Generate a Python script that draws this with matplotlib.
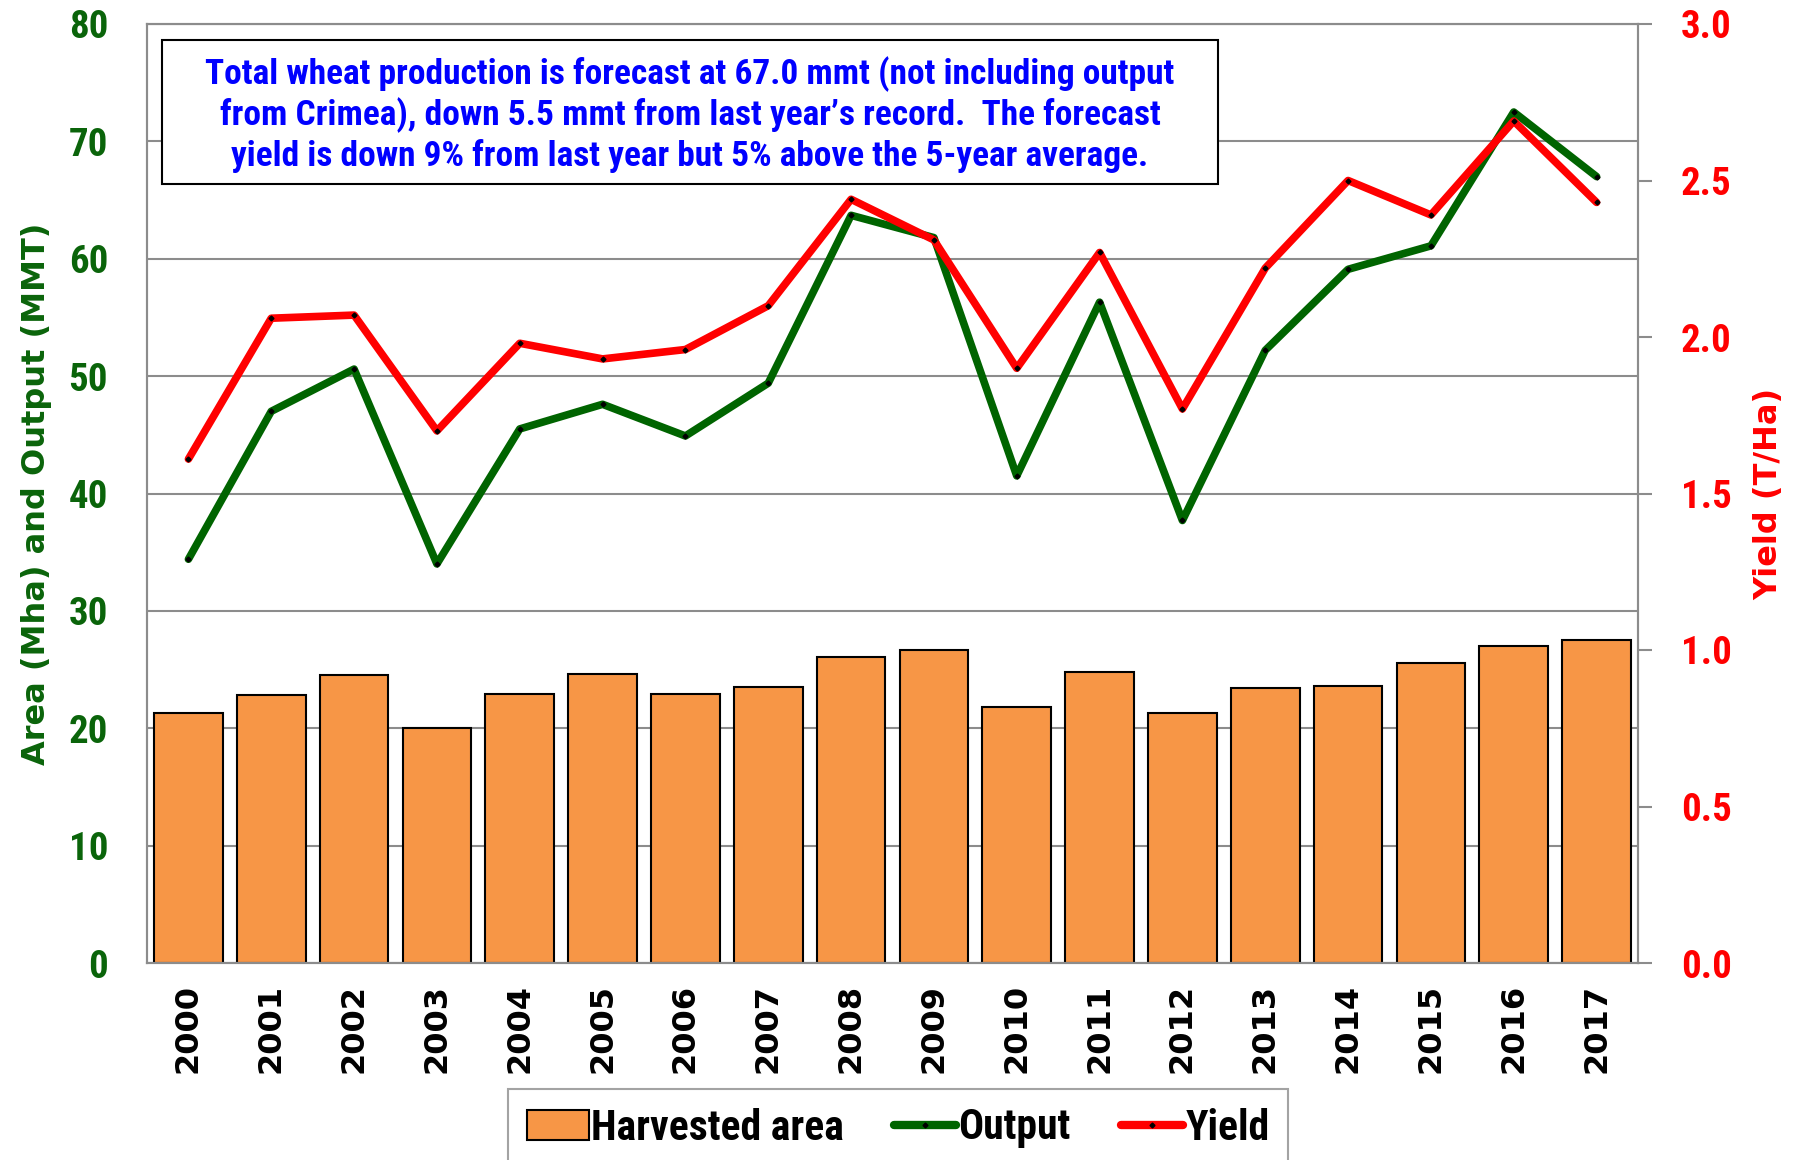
import numpy as np
import matplotlib.pyplot as plt
from matplotlib.patches import Rectangle
from matplotlib.lines import Line2D

years = [str(y) for y in range(2000, 2018)]
area = [21.3, 22.8, 24.5, 20.0, 22.9, 24.6, 22.9, 23.5, 26.1, 26.7,
        21.8, 24.8, 21.3, 23.4, 23.6, 25.6, 27.0, 27.5]
output = [34.4, 47.0, 50.6, 34.0, 45.5, 47.6, 44.9, 49.4, 63.7, 61.8,
          41.5, 56.3, 37.7, 52.2, 59.1, 61.1, 72.5, 67.0]
yld = [1.61, 2.06, 2.07, 1.70, 1.98, 1.93, 1.96, 2.10, 2.44, 2.31,
       1.90, 2.27, 1.77, 2.22, 2.50, 2.39, 2.69, 2.43]

note = ("Total wheat production is forecast at 67.0 mmt (not including output\n"
        "from Crimea), down 5.5 mmt from last year\u2019s record.  The forecast\n"
        "yield is down 9% from last year but 5% above the 5-year average.")

NARROW = ['Roboto Condensed', 'DejaVu Sans']
WIDE = ['DejaVu Sans']
GREEN = '#0a640a'
LINE_GREEN = '#006400'
ORANGE = '#f79646'
GRID = '#8c8c8c'

W, H = 1802, 1160
fig = plt.figure(figsize=(W / 100, H / 100), dpi=100)
L, R, T, B = 147, 1638, 24, 963
ax = fig.add_axes([L / W, 1 - B / H, (R - L) / W, (B - T) / H])
ax2 = ax.twinx()

x = np.arange(len(years))
ax.bar(x, area, width=0.83, color=ORANGE, edgecolor='black', linewidth=1.5, zorder=2)
ax.plot(x, output, color=LINE_GREEN, lw=5.5, solid_capstyle='round', zorder=3,
        marker='D', ms=2.5, mfc='black', mec='black')
ax2.plot(x, yld, color='#ff0000', lw=5.5, solid_capstyle='round', zorder=3,
         marker='D', ms=2.5, mfc='black', mec='black')

ax.set_xlim(-0.5, len(years) - 0.5)
ax.set_ylim(0, 80)
ax2.set_ylim(0, 3.0)
ax.set_yticks(range(0, 81, 10))
ax2.set_yticks(np.arange(0, 3.01, 0.5))
ax2.set_yticklabels([f'{v:.1f}' for v in np.arange(0, 3.01, 0.5)])

ax.yaxis.grid(True, color=GRID, lw=1.5, zorder=0)
ax.set_axisbelow(True)

for a in (ax, ax2):
    for s in a.spines.values():
        s.set_color(GRID)
        s.set_linewidth(1.5)

ax.set_xticks(x)
ax.set_xticklabels(years, rotation=90, fontsize=23, fontweight='bold', family=WIDE)
ax.tick_params(axis='x', length=0, pad=15)
ax.tick_params(axis='y', length=0, pad=28, labelcolor=GREEN)
ax2.tick_params(axis='y', length=10, width=1.5, color=GRID, pad=21, labelcolor='#ff0000')
for lab in ax.get_yticklabels() + ax2.get_yticklabels():
    lab.set_fontsize(28)
    lab.set_fontweight('bold')
    lab.set_family(NARROW)

ax.set_ylabel('Area (Mha) and Output (MMT)', fontsize=23, fontweight='bold',
              color=GREEN, family=WIDE)
ax.yaxis.set_label_coords(-0.064, 0.5)
ax2.set_ylabel('Yield (T/Ha)', fontsize=23, fontweight='bold', color='#ff0000',
               family=WIDE, rotation=90)
ax2.yaxis.set_label_coords(1.077, 0.5)

# note box
bx0, bx1, by0, by1 = 162, 1218, 40, 184
fig.patches.append(Rectangle((bx0 / W, 1 - by1 / H), (bx1 - bx0) / W, (by1 - by0) / H,
                             transform=fig.transFigure, facecolor='white',
                             edgecolor='black', lw=1.5, zorder=10))
fig.text((bx0 + bx1) / 2 / W, 1 - (by0 + by1) / 2 / H - 0.002, note, ha='center',
         va='center', multialignment='center', color='#0000ff', fontsize=25.5,
         fontweight='bold', family=NARROW, linespacing=1.2, zorder=11)

handles = [Rectangle((0, 0), 1, 1, facecolor=ORANGE, edgecolor='black', lw=1.5),
           Line2D([], [], color=LINE_GREEN, lw=6, solid_capstyle='round',
                  marker='D', ms=2.5, mfc='black', mec='black'),
           Line2D([], [], color='#ff0000', lw=6, solid_capstyle='round',
                  marker='D', ms=2.5, mfc='black', mec='black')]
leg = fig.legend(handles, ['Harvested area', 'Output', 'Yield'], loc='center',
                 bbox_to_anchor=(898 / W, 1 - 1128 / H), ncol=3, frameon=True,
                 fancybox=False, edgecolor=GRID, handlelength=1.5, handletextpad=0.05,
                 columnspacing=1.2, borderpad=0.45,
                 prop={'family': NARROW, 'weight': 'bold', 'size': 30})
leg.get_frame().set_linewidth(1.5)

fig.savefig('out.png', dpi=100)
